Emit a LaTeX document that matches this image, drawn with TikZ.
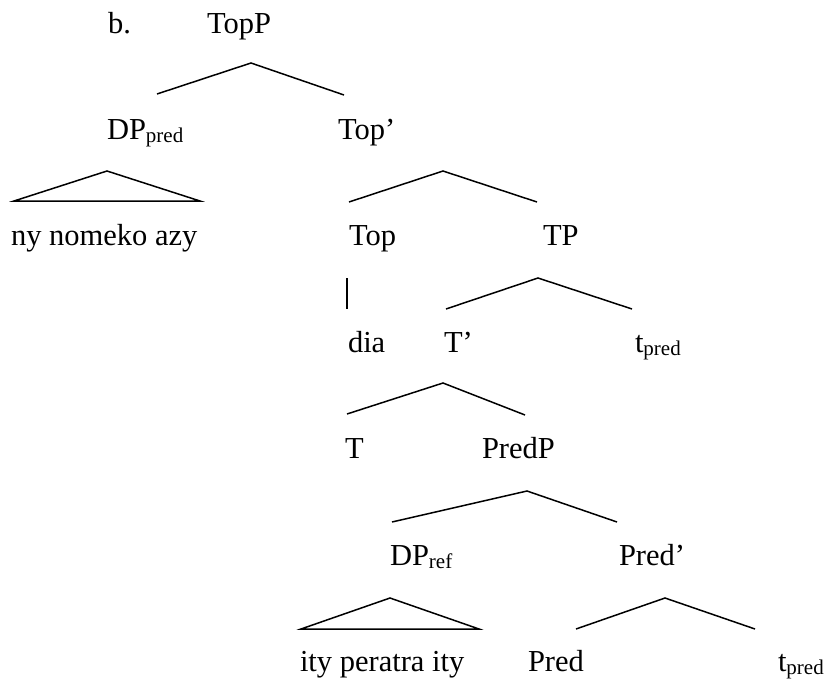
\documentclass[tikz,border=0pt]{standalone}
\usepackage{fontspec}
\setmainfont{Liberation Serif}
\newcommand{\sbs}[1]{\raisebox{-3.5pt}{\fontsize{21}{24}\selectfont #1}}
\begin{document}
\begin{tikzpicture}[x=1pt,y=-1pt,
  lbl/.style={anchor=base west,inner sep=0pt,outer sep=0pt,font=\fontsize{30.5}{36}\selectfont},
  branch/.style={line width=1.5pt,line cap=butt,line join=miter}]
\useasboundingbox[fill=white] (0,0) rectangle (827,680);
% labels
\node[lbl] (ex) at (108,33) {b.};
\node[lbl] (TopP) at (207,33) {TopP};
\node[lbl] (DPpred) at (107,139) {DP\sbs{pred}};
\node[lbl] (Topbar) at (338,139) {Top’};
\node[lbl] (nyn) at (11,245) {ny nomeko azy};
\node[lbl] (Top) at (349,245) {Top};
\node[lbl] (TP) at (543,245) {TP};
\node[lbl] (dia) at (348,352) {dia};
\node[lbl] (Tbar) at (444,352) {T’};
\node[lbl] (tpredA) at (635,352) {t\sbs{pred}};
\node[lbl] (T) at (345,458) {T};
\node[lbl] (PredP) at (482,458) {PredP};
\node[lbl] (DPref) at (390,565) {DP\sbs{ref}};
\node[lbl] (Predbar) at (619,565) {Pred’};
\node[lbl] (ity) at (300,671) {ity peratra ity};
\node[lbl] (Pred) at (528,671) {Pred};
\node[lbl] (tpredB) at (778,671) {t\sbs{pred}};
% branch points
\coordinate (a1) at (251,63);  \coordinate (l1) at (157,94);  \coordinate (r1) at (344,95);
\coordinate (a2) at (107,171); \coordinate (l2) at (14,201);  \coordinate (r2) at (200,201);
\coordinate (a3) at (443,171); \coordinate (l3) at (349,202); \coordinate (r3) at (537,202);
\coordinate (a4) at (347,278); \coordinate (b4) at (347,309);
\coordinate (a5) at (538,278); \coordinate (l5) at (446,309); \coordinate (r5) at (632,309);
\coordinate (a6) at (443,383); \coordinate (l6) at (347,414); \coordinate (r6) at (525,415);
\coordinate (a7) at (527,491); \coordinate (l7) at (392,522); \coordinate (r7) at (617,522);
\coordinate (a8) at (390,598); \coordinate (l8) at (301,629); \coordinate (r8) at (479,629);
\coordinate (a9) at (665,598); \coordinate (l9) at (576,629); \coordinate (r9) at (755,629);
% branches
\draw[branch] (l1) -- (a1) -- (r1);
\draw[branch] (l2) -- (a2) -- (r2) -- cycle;
\draw[branch] (l3) -- (a3) -- (r3);
\draw[branch] (a4) -- (b4);
\draw[branch] (l5) -- (a5) -- (r5);
\draw[branch] (l6) -- (a6) -- (r6);
\draw[branch] (l7) -- (a7) -- (r7);
\draw[branch] (l8) -- (a8) -- (r8) -- cycle;
\draw[branch] (l9) -- (a9) -- (r9);
\end{tikzpicture}
\end{document}
